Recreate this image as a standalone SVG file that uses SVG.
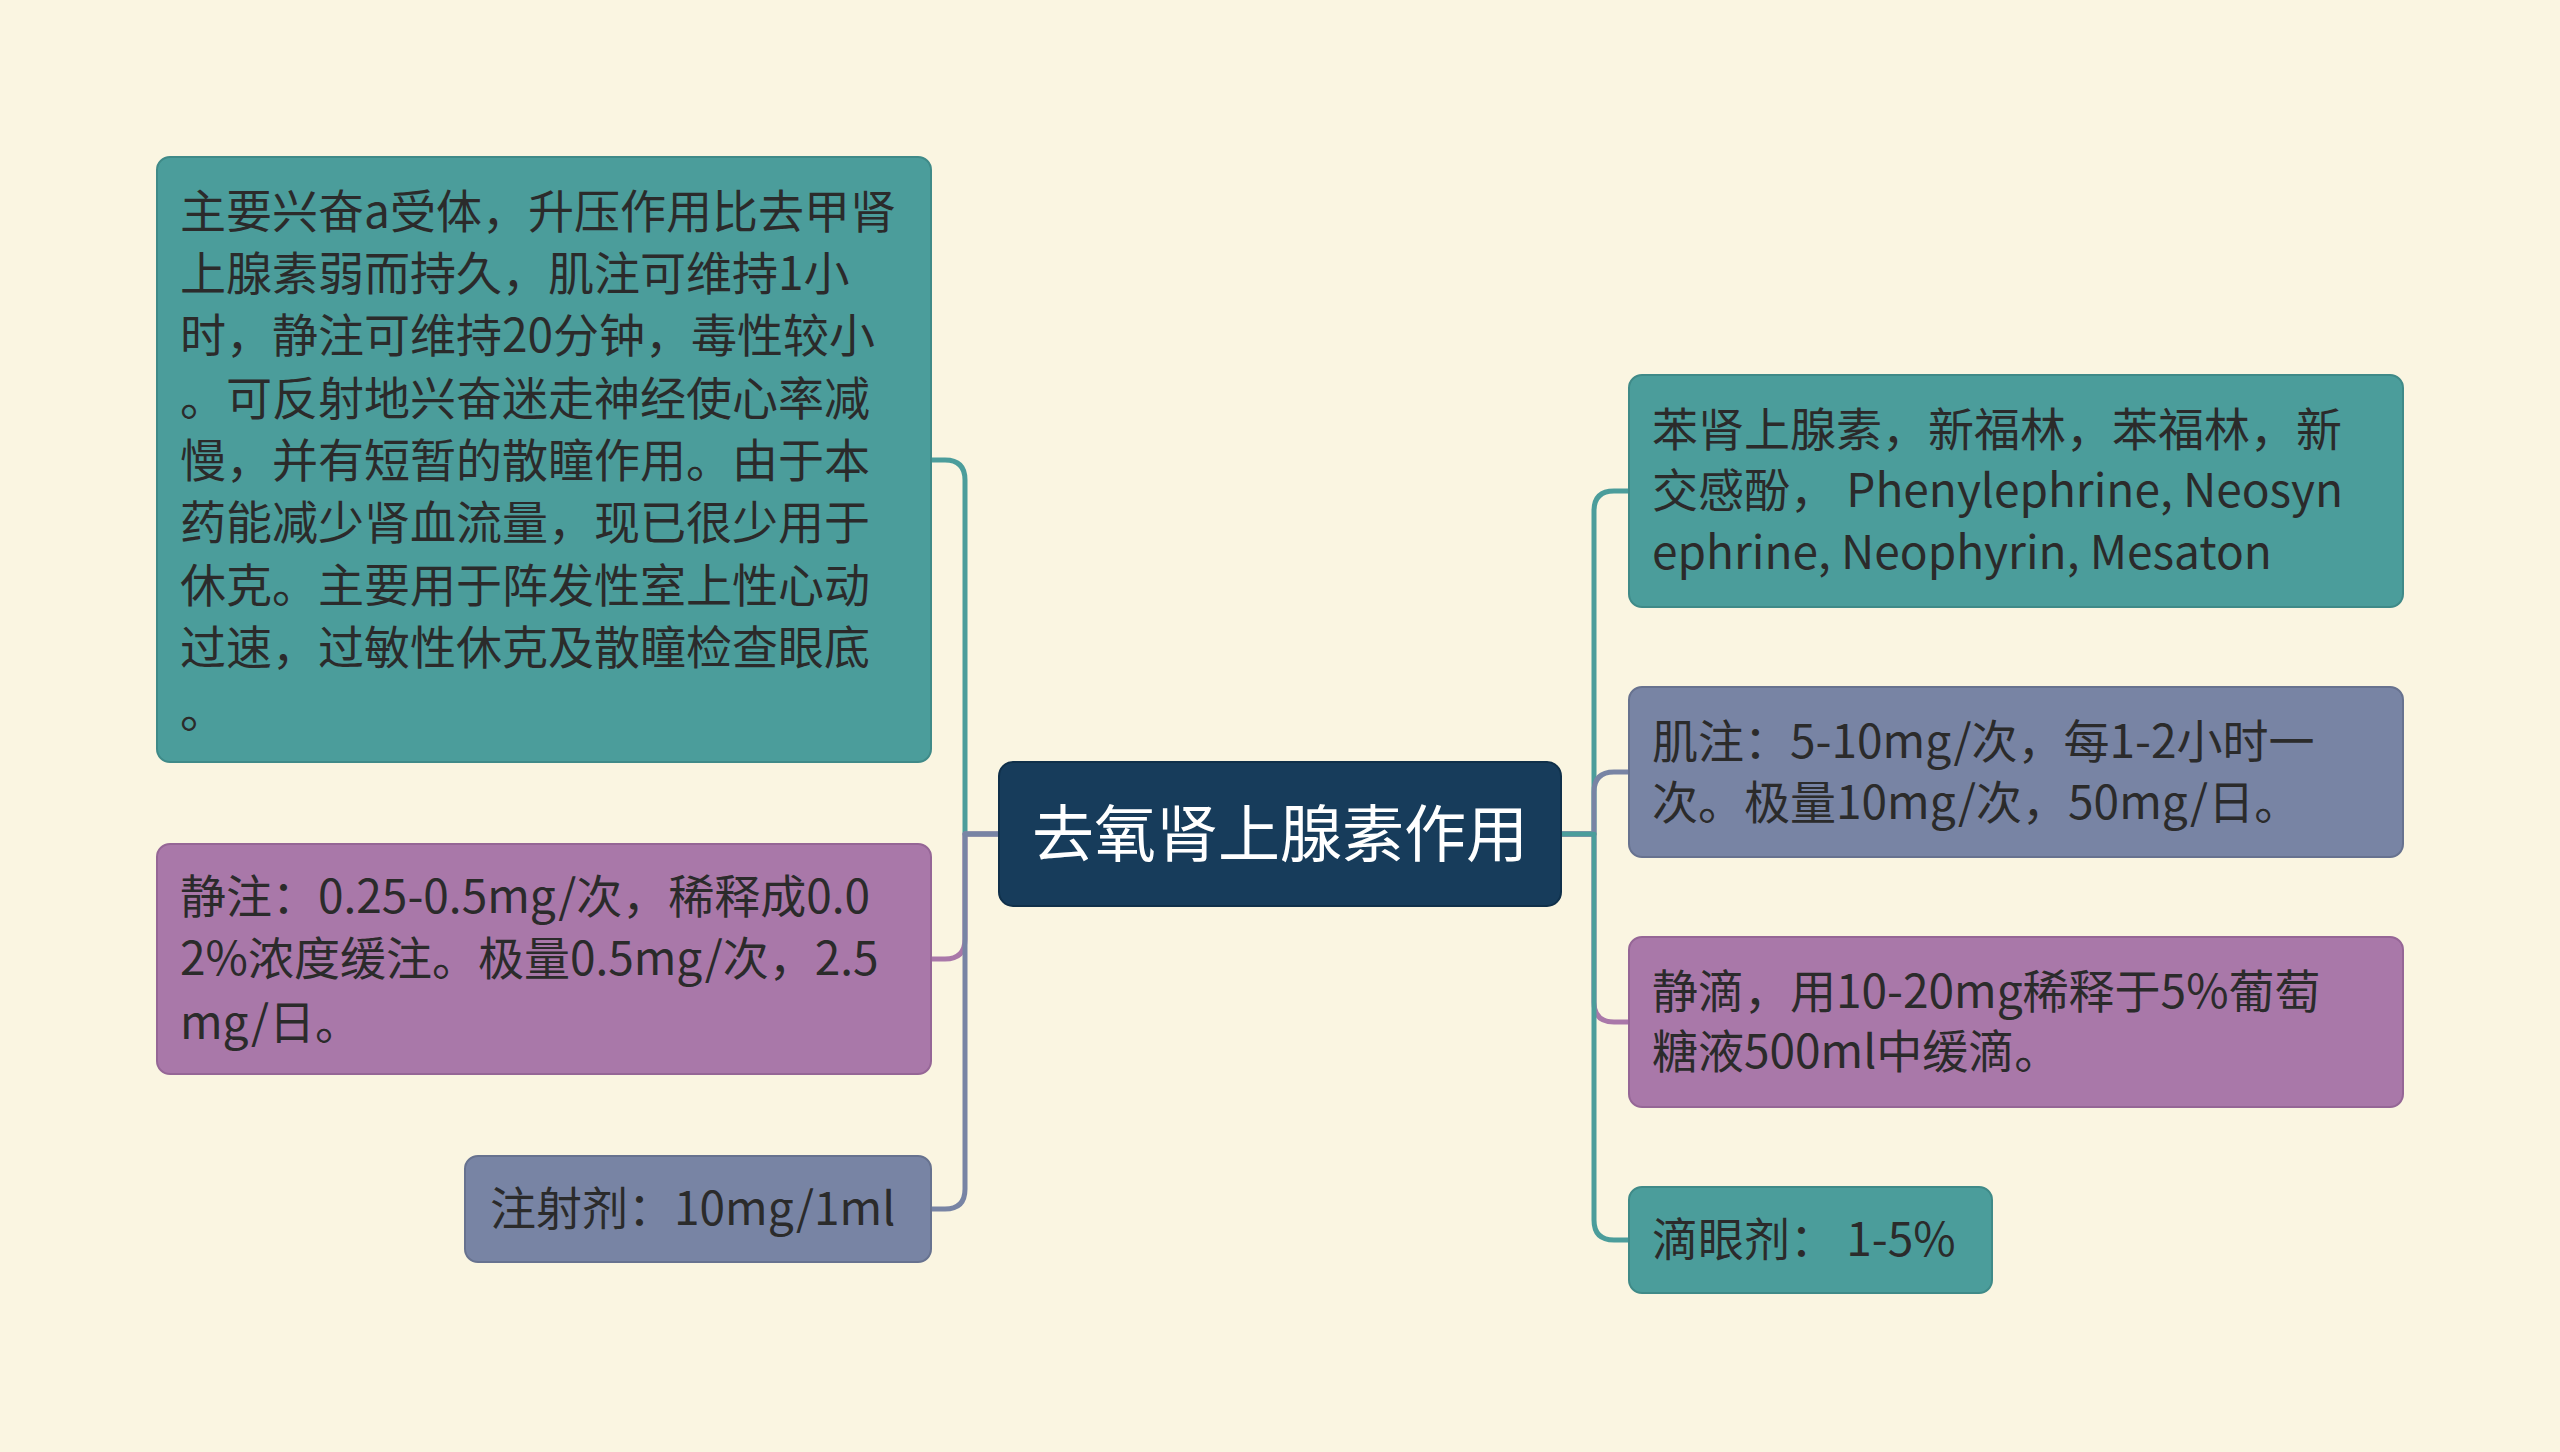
<svg xmlns="http://www.w3.org/2000/svg" width="2560" height="1452" viewBox="0 0 2560 1452">
  <style>
    .bg { fill: #FAF5E1; }
    .teal { fill: #4B9D9B; stroke: #3F8A88; stroke-width: 2; }
    .purple { fill: #A978A9; stroke: #956696; stroke-width: 2; }
    .slate { fill: #7884A4; stroke: #67728F; stroke-width: 2; }
    .root { fill: #173C5B; stroke: #10304A; stroke-width: 2; }
    .t { font-family: "Noto Sans CJK SC", "Noto Sans", sans-serif; font-size: 46px; fill: #2B2B2B; }
    .rt { font-family: "Noto Sans CJK SC", "Noto Sans", sans-serif; font-size: 62px; fill: #FFFFFF; }
    .c { fill: none; stroke-width: 5; stroke-linejoin: round; }
    .ct { stroke: #4B9D9B; }
    .cp { stroke: #A978A9; }
    .cs { stroke: #7884A4; }
  </style>
  <rect class="bg" x="0" y="0" width="2560" height="1452"/>

  <g id="connectors">
    <path class="c ct" d="M 999 834 H 965 V 480 Q 965 460 945 460 H 931"/>
    <path class="c cp" d="M 999 834 H 965 V 939 Q 965 959 945 959 H 931"/>
    <path class="c cs" d="M 999 834 H 965 V 1189 Q 965 1209 945 1209 H 931"/>
    <path class="c ct" d="M 1561 834 H 1594 V 511 Q 1594 491 1614 491 H 1629"/>
    <path class="c cs" d="M 1561 834 H 1594 V 792 Q 1594 772 1614 772 H 1629"/>
    <path class="c cp" d="M 1561 834 H 1594 V 1002 Q 1594 1022 1614 1022 H 1629"/>
    <path class="c ct" d="M 1561 834 H 1594 V 1220 Q 1594 1240 1614 1240 H 1629"/>
  </g>

  <g id="root">
    <rect class="root" x="999" y="762" width="562" height="144" rx="14"/>
    <text class="rt" x="1280" y="857" text-anchor="middle">去氧肾上腺素作用</text>
  </g>

  <g id="node-left-1">
    <rect class="teal" x="157" y="157" width="774" height="605" rx="13"/>
    <text class="t">
      <tspan x="180" y="228">主要兴奋a受体，升压作用比去甲肾</tspan>
      <tspan x="180" y="290">上腺素弱而持久，肌注可维持1小</tspan>
      <tspan x="180" y="352">时，静注可维持20分钟，毒性较小</tspan>
      <tspan x="180" y="415">。可反射地兴奋迷走神经使心率减</tspan>
      <tspan x="180" y="477">慢，并有短暂的散瞳作用。由于本</tspan>
      <tspan x="180" y="539">药能减少肾血流量，现已很少用于</tspan>
      <tspan x="180" y="602">休克。主要用于阵发性室上性心动</tspan>
      <tspan x="180" y="664">过速，过敏性休克及散瞳检查眼底</tspan>
      <tspan x="180" y="727">。</tspan>
    </text>
  </g>

  <g id="node-left-2">
    <rect class="purple" x="157" y="844" width="774" height="230" rx="13"/>
    <text class="t">
      <tspan x="180" y="913">静注：0.25-0.5mg/次，稀释成0.0</tspan>
      <tspan x="180" y="975">2%浓度缓注。极量0.5mg/次，2.5</tspan>
      <tspan x="180" y="1039">mg/日。</tspan>
    </text>
  </g>

  <g id="node-left-3">
    <rect class="slate" x="465" y="1156" width="466" height="106" rx="13"/>
    <text class="t" x="490" y="1225">注射剂：10mg/1ml</text>
  </g>

  <g id="node-right-1">
    <rect class="teal" x="1629" y="375" width="774" height="232" rx="13"/>
    <text class="t">
      <tspan x="1652" y="446">苯肾上腺素，新福林，苯福林，新</tspan>
      <tspan x="1652" y="507">交感酚， Phenylephrine, Neosyn</tspan>
      <tspan x="1652" y="569">ephrine, Neophyrin, Mesaton</tspan>
    </text>
  </g>

  <g id="node-right-2">
    <rect class="slate" x="1629" y="687" width="774" height="170" rx="13"/>
    <text class="t">
      <tspan x="1652" y="758">肌注：5-10mg/次，每1-2小时一</tspan>
      <tspan x="1652" y="819">次。极量10mg/次，50mg/日。</tspan>
    </text>
  </g>

  <g id="node-right-3">
    <rect class="purple" x="1629" y="937" width="774" height="170" rx="13"/>
    <text class="t">
      <tspan x="1652" y="1008">静滴，用10-20mg稀释于5%葡萄</tspan>
      <tspan x="1652" y="1068">糖液500ml中缓滴。</tspan>
    </text>
  </g>

  <g id="node-right-4">
    <rect class="teal" x="1629" y="1187" width="363" height="106" rx="13"/>
    <text class="t" x="1652" y="1256">滴眼剂： 1-5%</text>
  </g>
</svg>
